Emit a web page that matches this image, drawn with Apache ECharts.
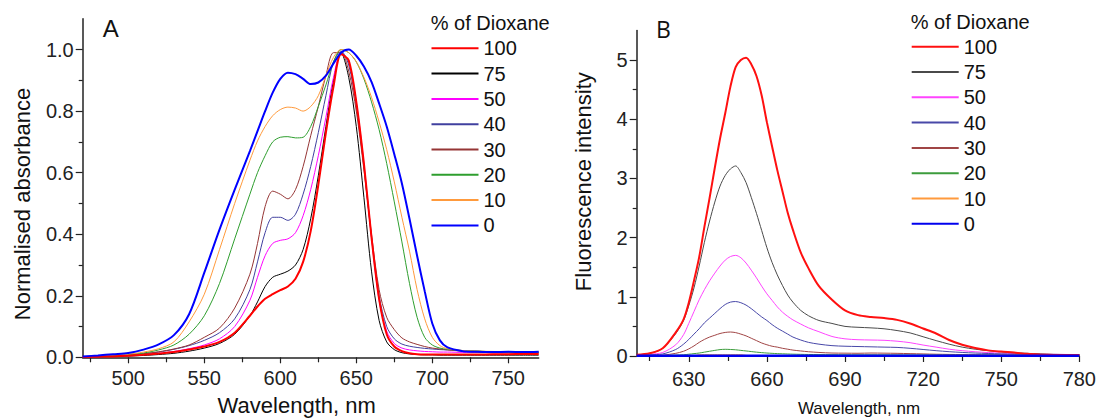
<!DOCTYPE html>
<html>
<head>
<meta charset="utf-8">
<script src="https://cdn.jsdelivr.net/npm/echarts@6/dist/echarts.min.js"></script>
<style>
html,body{margin:0;padding:0;background:#fff;}
#chart{width:1099px;height:419px;}
</style>
</head>
<body>
<div id="chart"></div>
<script>
// ---------- Panel A: normalised absorbance ----------
const wlA = [470,480,490,500,510,520,530,540,550,560,570,580,585,590,595,600,605,610,615,620,625,630,635,640,645,650,655,660,665,670,675,680,685,690,695,700,705,710,720,730,740,750,760,770];
const absA100 = [0.001,0.002,0.003,0.005,0.008,0.012,0.017,0.025,0.035,0.05,0.08,0.135, 0.165,0.19,0.205,0.218,0.23,0.255,0.31,0.41,0.56,0.73,0.88,0.985, 0.965,0.83,0.63,0.39,0.19,0.075,0.035,0.02,0.013,0.01,0.009,0.009,0.009,0.009, 0.009,0.009,0.01,0.01,0.011,0.011];
const absA75 = [0.001,0.002,0.003,0.004,0.006,0.009,0.013,0.02,0.03,0.045,0.075,0.135, 0.18,0.23,0.26,0.27,0.28,0.3,0.35,0.45,0.59,0.75,0.9,0.99, 0.91,0.75,0.52,0.28,0.12,0.05,0.025,0.015,0.011,0.009,0.008,0.008,0.007,0.007, 0.007,0.007,0.007,0.007,0.007,0.007];
const absA50 = [0.001,0.002,0.004,0.006,0.009,0.013,0.019,0.028,0.04,0.06,0.1,0.185, 0.26,0.33,0.37,0.38,0.385,0.405,0.46,0.545,0.655,0.78,0.91,0.99, 0.96,0.83,0.63,0.39,0.185,0.085,0.045,0.03,0.024,0.021,0.019,0.018,0.017,0.017, 0.016,0.016,0.015,0.015,0.015,0.015];
const absA40 = [0.002,0.003,0.005,0.007,0.011,0.017,0.026,0.038,0.055,0.08,0.125,0.22, 0.31,0.405,0.455,0.455,0.445,0.465,0.53,0.62,0.73,0.85,0.96,0.995, 0.95,0.815,0.62,0.39,0.2,0.1,0.06,0.043,0.036,0.032,0.029,0.027,0.025,0.024, 0.022,0.02,0.018,0.017,0.016,0.016];
const absA30 = [0.002,0.003,0.005,0.008,0.012,0.018,0.027,0.04,0.065,0.095,0.16,0.27, 0.37,0.49,0.54,0.53,0.515,0.545,0.62,0.72,0.815,0.915,0.99,0.99, 0.93,0.8,0.61,0.4,0.22,0.13,0.09,0.063,0.05,0.042,0.035,0.03,0.027,0.024, 0.02,0.017,0.015,0.015,0.014,0.014];
const absA20 = [0.002,0.004,0.006,0.009,0.014,0.024,0.04,0.075,0.135,0.24,0.385,0.53, 0.6,0.655,0.7,0.715,0.717,0.713,0.715,0.75,0.815,0.885,0.96,1.0, 0.99,0.96,0.905,0.83,0.74,0.63,0.505,0.375,0.24,0.13,0.065,0.04,0.03,0.026, 0.022,0.02,0.018,0.017,0.017,0.016];
const absA10 = [0.002,0.004,0.007,0.01,0.017,0.028,0.05,0.115,0.205,0.35,0.5,0.64, 0.703,0.75,0.785,0.805,0.813,0.81,0.8,0.815,0.85,0.915,0.975,1.0, 0.99,0.96,0.91,0.845,0.765,0.675,0.57,0.455,0.345,0.22,0.125,0.065,0.038,0.028, 0.022,0.02,0.019,0.018,0.018,0.018];
const absA0 = [0.003,0.006,0.01,0.014,0.025,0.042,0.072,0.14,0.275,0.415,0.545,0.67, 0.735,0.8,0.86,0.905,0.925,0.92,0.905,0.888,0.893,0.915,0.955,0.99, 1.0,0.98,0.945,0.895,0.825,0.75,0.66,0.565,0.45,0.33,0.215,0.11,0.055,0.032, 0.02,0.018,0.017,0.018,0.017,0.018];

// ---------- Panel B: fluorescence ----------
const wlB = [610,615,620,625,628,630,632,634,636,638,640,642,644,646,648,650,652,654,656,658,660,662,664,666,668,670,673,676,680,685,690,695,700,705,710,715,720,725,730,735,740,745,750,755,760,765,770,775,780];
const flB100 = [0.02,0.045,0.13,0.4,0.62,0.9,1.27,1.67,2.18,2.67, 3.18,3.67,4.1,4.55,4.88,5.0,5.04,4.93,4.73,4.4, 3.95,3.54,3.14,2.78,2.42,2.13,1.75,1.48,1.18,0.95, 0.77,0.69,0.66,0.64,0.61,0.55,0.465,0.38,0.27,0.19, 0.135,0.095,0.074,0.058,0.036,0.025,0.018,0.015,0.015];
const flB75 = [0.02,0.045,0.13,0.38,0.6,0.85,1.15,1.52,1.92,2.28, 2.6,2.87,3.05,3.16,3.21,3.1,2.93,2.68,2.41,2.12, 1.83,1.58,1.37,1.19,1.03,0.91,0.77,0.68,0.6,0.55, 0.5,0.485,0.475,0.46,0.43,0.39,0.325,0.26,0.2,0.15, 0.115,0.09,0.07,0.055,0.045,0.035,0.028,0.025,0.022];
const flB50 = [0.015,0.03,0.06,0.19,0.36,0.55,0.75,0.95,1.12,1.27, 1.4,1.52,1.62,1.68,1.7,1.66,1.57,1.45,1.32,1.18, 1.05,0.94,0.83,0.74,0.67,0.61,0.54,0.475,0.41,0.33, 0.29,0.275,0.27,0.265,0.25,0.225,0.185,0.15,0.115,0.09, 0.072,0.058,0.05,0.04,0.035,0.03,0.028,0.026,0.025];
const flB40 = [0.01,0.02,0.035,0.11,0.2,0.28,0.37,0.46,0.56,0.64, 0.72,0.8,0.87,0.91,0.92,0.9,0.86,0.8,0.73,0.66, 0.6,0.53,0.47,0.42,0.37,0.32,0.27,0.23,0.2,0.175, 0.165,0.16,0.155,0.15,0.145,0.13,0.11,0.09,0.073,0.06, 0.05,0.042,0.036,0.032,0.03,0.027,0.024,0.022,0.02];
const flB30 = [0.005,0.01,0.015,0.045,0.08,0.12,0.17,0.23,0.28,0.32, 0.35,0.38,0.398,0.405,0.395,0.37,0.34,0.3,0.26,0.22, 0.19,0.165,0.15,0.13,0.115,0.1,0.085,0.072,0.06,0.05, 0.048,0.046,0.05,0.048,0.045,0.04,0.035,0.03,0.027,0.024, 0.022,0.02,0.018,0.017,0.016,0.015,0.015,0.015,0.015];
const flB20 = [0.003,0.005,0.008,0.015,0.02,0.03,0.04,0.05,0.065,0.08, 0.095,0.108,0.113,0.11,0.105,0.095,0.085,0.075,0.065,0.057, 0.05,0.045,0.04,0.037,0.034,0.031,0.028,0.026,0.024,0.022, 0.021,0.02,0.02,0.02,0.019,0.018,0.017,0.016,0.015,0.014, 0.013,0.013,0.012,0.012,0.012,0.012,0.012,0.012,0.012];
const flB10 = [0.004,0.004,0.004,0.004,0.004,0.005,0.006,0.02,0.022,0.022, 0.022,0.022,0.022,0.022,0.022,0.022,0.01,0.006,0.005,0.005, 0.005,0.005,0.005,0.005,0.005,0.005,0.005,0.005,0.005,0.005, 0.005,0.005,0.005,0.005,0.005,0.005,0.005,0.005,0.005,0.005, 0.005,0.005,0.005,0.005,0.005,0.005,0.005,0.005,0.005];
const flB0 = [0.003,0.003,0.003,0.003,0.003,0.003,0.003,0.003,0.003,0.003, 0.003,0.003,0.003,0.003,0.003,0.003,0.003,0.003,0.003,0.003, 0.003,0.003,0.003,0.003,0.003,0.003,0.003,0.003,0.003,0.003, 0.003,0.003,0.003,0.003,0.003,0.003,0.003,0.003,0.003,0.003, 0.003,0.003,0.003,0.003,0.003,0.003,0.003,0.003,0.003];

// ---------- labels / ticks ----------
const seriesNames = ['100','75','50','40','30','20','10','0'];
const xLabelsA = [500,550,600,650,700,750];
const xMinorA = [475,525,575,625,675,725];
const yLabelsA = [0,0.2,0.4,0.6,0.8,1.0];
const yMinorA = [0.1,0.3,0.5,0.7,0.9];
const xLabelsB = [630,660,690,720,750,780];
const xMinorB = [615,645,675,705,735,765];
const yLabelsB = [0,1,2,3,4,5];
const yMinorB = [0.5,1.5,2.5,3.5,4.5];

const FONT = '"Liberation Sans", Arial, sans-serif';
const AX = '#222';

const colorsA = ['#ff0000','#000000','#ff00ff','#40409f','#953535','#2e9e2e','#ff9a3c','#0000ff'];
const colorsB = ['#ff1010','#4a4a4a','#ff44ff','#4848a8','#a04545','#3c9c3c','#ff9a3c','#0000ee'];
const widthsA = [2,1,1,1,1,1,1,2];
const widthsB = [2,1,1,1,1,1,1,2.5];
const zA = [4,3,3,3,3,3,3,5];
const zB = [5,4,3,3,3,3,3,6];

const dataA = [absA100,absA75,absA50,absA40,absA30,absA20,absA10,absA0];
const dataB = [flB100,flB75,flB50,flB40,flB30,flB20,flB10,flB0];

function mkX(grid, min, max, vals, len, showLine, labels, margin) {
  return {
    gridIndex: grid, type: 'value', min: min, max: max, position: 'bottom',
    axisLine: {show: showLine, onZero: false, lineStyle: {color: AX, width: 1.5}},
    axisTick: {show: true, customValues: vals, length: len, lineStyle: {color: AX, width: 1.2}},
    axisLabel: labels ? {show: true, customValues: vals, fontSize: 20, fontFamily: FONT, color: AX, margin: margin} : {show: false},
    splitLine: {show: false}
  };
}
function mkY(grid, min, max, vals, len, showLine, labels, fmt) {
  return {
    gridIndex: grid, type: 'value', min: min, max: max, position: 'left',
    axisLine: {show: showLine, onZero: false, lineStyle: {color: AX, width: 1.5}},
    axisTick: {show: true, customValues: vals, length: len, lineStyle: {color: AX, width: 1.2}},
    axisLabel: labels ? {show: true, customValues: vals, fontSize: 20, fontFamily: FONT, color: AX, margin: 9, formatter: fmt} : {show: false},
    splitLine: {show: false}
  };
}

const series = [];
seriesNames.forEach((n, i) => {
  series.push({
    name: 'A' + n, type: 'line', xAxisIndex: 0, yAxisIndex: 0,
    data: wlA.map((w, k) => [w, dataA[i][k]]),
    symbol: 'none', showSymbol: false, smooth: 0.3, z: zA[i],
    lineStyle: {color: colorsA[i], width: widthsA[i]}, itemStyle: {color: colorsA[i]},
    emphasis: {disabled: true}
  });
});
seriesNames.forEach((n, i) => {
  series.push({
    name: 'B' + n, type: 'line', xAxisIndex: 2, yAxisIndex: 2,
    data: wlB.map((w, k) => [w, dataB[i][k]]),
    symbol: 'none', showSymbol: false, smooth: 0.3, z: zB[i],
    lineStyle: {color: colorsB[i], width: widthsB[i]}, itemStyle: {color: colorsB[i]},
    emphasis: {disabled: true}
  });
});

function mkLegend(prefix, left, top) {
  return {
    orient: 'vertical', left: left, top: top,
    itemWidth: 47, itemHeight: 14, itemGap: 5.3, padding: 0,
    selectedMode: false,
    itemStyle: {opacity: 0},
    data: seriesNames.map(n => prefix + n),
    formatter: function (name) { return name.slice(1); },
    textStyle: {fontSize: 20, lineHeight: 20, fontFamily: FONT, color: '#111'}
  };
}

const chart = echarts.init(document.getElementById('chart'), null, {renderer: 'svg'});
chart.setOption({
  animation: false,
  backgroundColor: '#ffffff',
  grid: [
    {left: 82.7, top: 18.8, width: 456, height: 338.5},
    {left: 636.7, top: 30.4, width: 443.9, height: 325.6}
  ],
  xAxis: [
    mkX(0, 470, 770, xLabelsA, 6, true, true, 11),
    mkX(0, 470, 770, xMinorA, 5, false, false),
    mkX(1, 610, 780, xLabelsB, 6, true, true, 13),
    mkX(1, 610, 780, xMinorB, 5, false, false)
  ],
  yAxis: [
    mkY(0, 0, 1.1, yLabelsA, 7, true, true, function (v) { return v.toFixed(1); }),
    mkY(0, 0, 1.1, yMinorA, 4, false, false),
    mkY(1, 0, 5.5, yLabelsB, 7, true, true, function (v) { return String(Math.round(v)); }),
    mkY(1, 0, 5.5, yMinorB, 4, false, false)
  ],
  legend: [
    mkLegend('A', 430.5, 38.3),
    mkLegend('B', 910.7, 36.7)
  ],
  graphic: [
    {type: 'text', x: 110.7, y: 28.5, style: {text: 'A', fontSize: 24, fontFamily: FONT, fill: '#111', align: 'center', verticalAlign: 'middle'}},
    {type: 'text', x: 663.3, y: 28.5, style: {text: 'B', fontSize: 23, fontFamily: '"Open Sans", sans-serif', fill: '#111', align: 'center', verticalAlign: 'middle'}},
    {type: 'text', x: 430.7, y: 22.7, style: {text: '% of Dioxane', fontSize: 20, fontFamily: FONT, fill: '#111', align: 'left', verticalAlign: 'middle'}},
    {type: 'text', x: 910.7, y: 21.7, style: {text: '% of Dioxane', fontSize: 20, fontFamily: FONT, fill: '#111', align: 'left', verticalAlign: 'middle'}},
    {type: 'text', x: 296.7, y: 405, style: {text: 'Wavelength, nm', fontSize: 22, fontFamily: FONT, fill: '#111', align: 'center', verticalAlign: 'middle'}},
    {type: 'text', x: 859, y: 408, style: {text: 'Wavelength, nm', fontSize: 17, fontFamily: FONT, fill: '#111', align: 'center', verticalAlign: 'middle'}},
    {type: 'text', x: 22.5, y: 204, rotation: Math.PI / 2, style: {text: 'Normalised absorbance', fontSize: 22, fontFamily: FONT, fill: '#111', align: 'center', verticalAlign: 'middle'}},
    {type: 'text', x: 583.3, y: 181.7, rotation: Math.PI / 2, style: {text: 'Fluorescence intensity', fontSize: 22, fontFamily: FONT, fill: '#111', align: 'center', verticalAlign: 'middle'}}
  ],
  series: series
});
</script>
</body>
</html>
